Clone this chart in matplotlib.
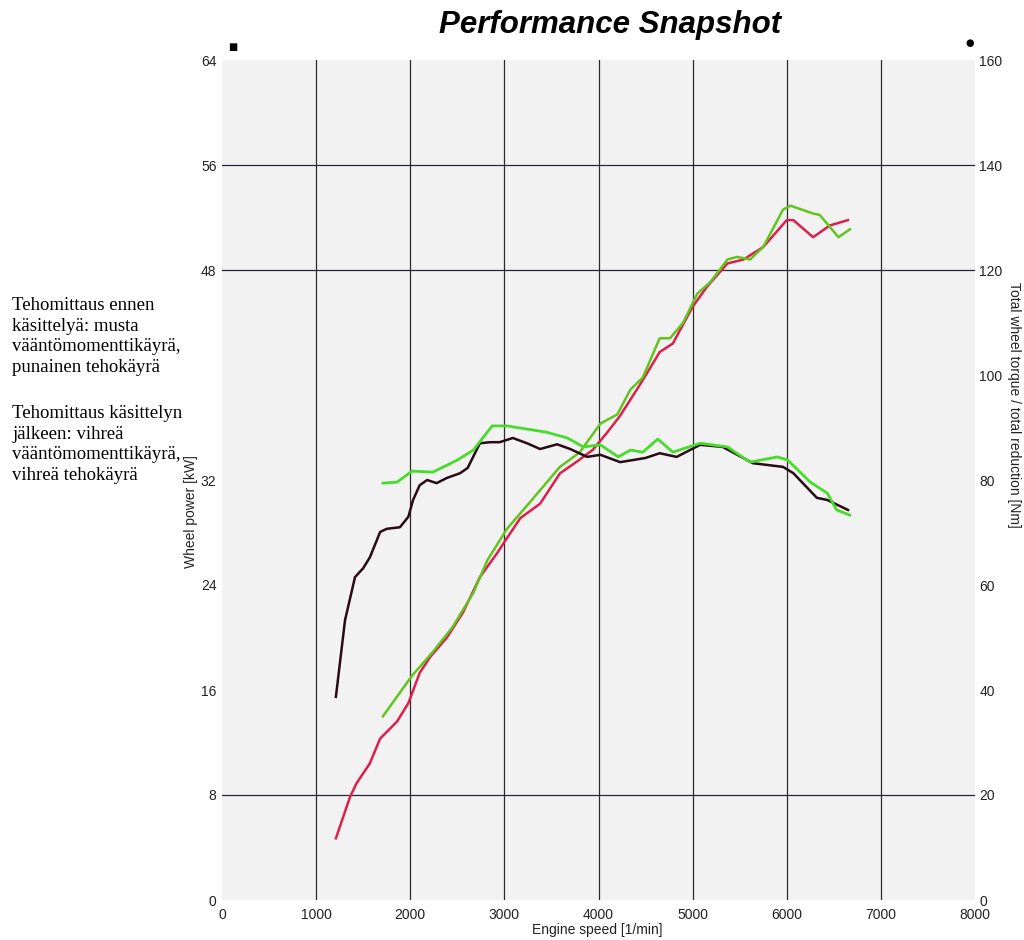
#!/usr/bin/env python3
"""Dyno snapshot: wheel power and torque before/after treatment."""

import matplotlib
matplotlib.use("Agg")
import matplotlib.pyplot as plt

# before treatment - torque [Nm] (black)
rpm_tq_before = [1210, 1307, 1413, 1500, 1572, 1680, 1750, 1890, 1980, 2030, 2100, 2180,
                 2280, 2390, 2530, 2610, 2740, 2850, 2950, 3090, 3240, 3380, 3560, 3700,
                 3880, 4020, 4230, 4500, 4650, 4830, 5080, 5320, 5640, 5960, 6070, 6320,
                 6430, 6650]
tq_before = [38.7, 53.3, 61.5, 63.2, 65.3, 70.1, 70.7, 71.0, 73.0, 76.2, 79.0, 80.0,
             79.4, 80.4, 81.3, 82.3, 87.0, 87.2, 87.2, 88.0, 87.0, 85.9, 86.8, 85.9,
             84.4, 84.8, 83.4, 84.2, 85.1, 84.4, 86.7, 86.3, 83.2, 82.5, 81.3, 76.6,
             76.2, 74.3]

# after treatment - torque [Nm] (green)
rpm_tq_after = [1710, 1860, 2020, 2240, 2500, 2670, 2870, 3030, 3450, 3670, 3840, 4020,
                4210, 4340, 4470, 4630, 4790, 5080, 5370, 5610, 5900, 6010, 6250, 6430,
                6530, 6670]
tq_after = [79.4, 79.6, 81.7, 81.5, 83.8, 85.7, 90.3, 90.3, 89.1, 88.0, 86.3, 86.7,
            84.4, 85.7, 85.3, 87.8, 85.3, 87.0, 86.3, 83.4, 84.4, 83.8, 79.6, 77.5,
            74.3, 73.3]

# before treatment - power [kW] (red)
rpm_pw_before = [1210, 1360, 1430, 1570, 1680, 1860, 1980, 2100, 2210, 2390, 2560, 2740,
                 2920, 3030, 3170, 3380, 3590, 3770, 3940, 4090, 4230, 4470, 4650, 4790,
                 5000, 5150, 5370, 5540, 5750, 6000, 6070, 6280, 6460, 6650]
pw_before = [4.7, 7.85, 8.9, 10.4, 12.3, 13.6, 15.0, 17.3, 18.5, 20.0, 21.9, 24.6,
             26.4, 27.6, 29.1, 30.2, 32.5, 33.4, 34.3, 35.6, 36.9, 39.6, 41.75, 42.4,
             45.2, 46.7, 48.5, 48.8, 49.75, 51.8, 51.8, 50.5, 51.4, 51.8]

# after treatment - power [kW] (green)
rpm_pw_after = [1710, 1890, 2020, 2240, 2450, 2670, 2820, 3030, 3270, 3590, 3800, 4020,
                4200, 4340, 4470, 4650, 4760, 4900, 5050, 5190, 5370, 5470, 5610, 5750,
                5960, 6040, 6280, 6350, 6550, 6670]
pw_after = [14.0, 15.8, 17.1, 18.9, 20.8, 23.4, 25.9, 28.3, 30.3, 33.0, 34.1, 36.3,
            37.0, 38.9, 39.8, 42.8, 42.8, 44.0, 46.2, 47.1, 48.8, 49.0, 48.8, 49.75,
            52.6, 52.9, 52.3, 52.2, 50.5, 51.1]

x_ticks = [0, 1000, 2000, 3000, 4000, 5000, 6000, 7000, 8000]
power_ticks = [0, 8, 16, 24, 32, 48, 56, 64]
torque_ticks = [0, 20, 40, 60, 80, 100, 120, 140, 160]
hgrid_power = [8, 48, 56]

note_before = "Tehomittaus ennen\nkäsittelyä: musta\nvääntömomenttikäyrä,\npunainen tehokäyrä"
note_after = "Tehomittaus käsittelyn\njälkeen: vihreä\nvääntömomenttikäyrä,\nvihreä tehokäyrä"


def main() -> None:
    plt.rcParams["font.family"] = ["Liberation Sans", "DejaVu Sans"]
    fig = plt.figure(figsize=(10.24, 9.40), dpi=100)
    ax = fig.add_axes([222 / 1024, 40 / 940, 753 / 1024, 840 / 940])
    ax.set_facecolor("#f2f2f2")
    ax2 = ax.twinx()

    ax.set_xlim(0, 8000)
    ax.set_ylim(0, 64)
    ax2.set_ylim(0, 160)

    for spine in list(ax.spines.values()) + list(ax2.spines.values()):
        spine.set_visible(False)

    for xv in x_ticks[1:-1]:
        ax.axvline(xv, color="#2b2b2b", lw=0.9, zorder=1)
    for yv in hgrid_power:
        ax.axhline(yv, color="#26263a", lw=0.9, zorder=1)

    ax2.plot(rpm_tq_before, tq_before, color="#2a0a14", lw=1.8, zorder=3)
    ax.plot(rpm_pw_before, pw_before, color="#dc1f4b", lw=1.8, zorder=3)
    ax2.plot(rpm_tq_after, tq_after, color="#45dd2a", lw=2.0, zorder=4)
    ax.plot(rpm_pw_after, pw_after, color="#62c51c", lw=1.8, zorder=4)

    ax.set_xticks(x_ticks)
    ax.set_yticks(power_ticks)
    ax2.set_yticks(torque_ticks)
    ax.tick_params(axis="x", length=0, labelsize=10, colors="#222222", pad=6)
    ax.tick_params(axis="y", length=0, labelsize=10, colors="#222222", pad=4)
    ax2.tick_params(axis="y", length=0, labelsize=10, colors="#222222", pad=3)

    fig.text(191 / 1024, 1 - 512 / 940, "Wheel power [kW]", rotation=90,
             ha="center", va="center", fontsize=10, color="#222222")
    fig.text(1014 / 1024, 1 - 405 / 940, "Total wheel torque / total reduction [Nm]",
             rotation=-90, ha="center", va="center", fontsize=10, color="#222222")
    fig.text(597 / 1024, 1 - 930 / 940, "Engine speed [1/min]", ha="center",
             va="center", fontsize=10, color="#222222")

    fig.text(610 / 1024, 1 - 25 / 940, "Performance Snapshot", ha="center",
             va="center", fontsize=22.5, fontweight="bold", fontstyle="italic")

    fig.text(233 / 1024, 1 - 47 / 940, "■", ha="center", va="center", fontsize=7,
             family="DejaVu Sans")
    fig.text(970 / 1024, 1 - 43 / 940, "●", ha="center", va="center", fontsize=7,
             family="DejaVu Sans")

    fig.text(12 / 1024, 1 - 297 / 940, note_before, ha="left", va="top", fontsize=13.5,
             family="Liberation Serif", linespacing=1.28)
    fig.text(12 / 1024, 1 - 405 / 940, note_after, ha="left", va="top", fontsize=13.5,
             family="Liberation Serif", linespacing=1.28)

    fig.savefig("out.png", dpi=100)
    plt.close(fig)


if __name__ == "__main__":
    main()
